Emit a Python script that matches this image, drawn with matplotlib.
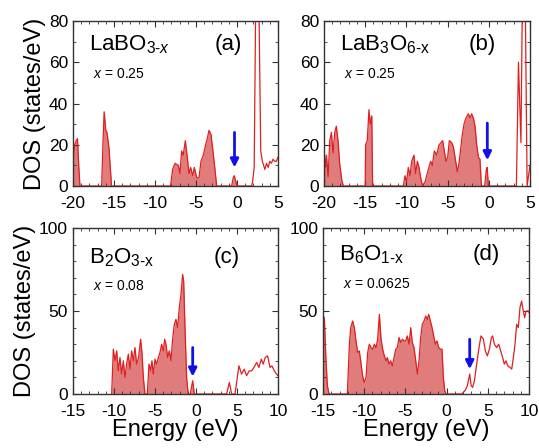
import numpy as np
import matplotlib
matplotlib.use('Agg')
import matplotlib.pyplot as plt
from matplotlib.ticker import MultipleLocator

plt.rcParams['font.family'] = ['Liberation Sans', 'DejaVu Sans']
plt.rcParams['axes.unicode_minus'] = False
plt.rcParams['mathtext.fontset'] = 'custom'
plt.rcParams['mathtext.rm'] = 'Liberation Sans'
plt.rcParams['mathtext.it'] = 'Liberation Sans:italic'

# (a) LaBO3-x
e_a = [-20.0, -19.8, -19.6, -19.45, -19.3, -19.15, -16.5, -16.35, -16.2, -16.0, -15.85, -15.6, -15.3,
       -8.1, -7.85, -7.56, -7.15, -6.95, -6.75, -6.55, -6.3, -6.06, -5.85, -5.65, -5.4, -5.2, -4.9,
       -4.63, -4.39, -4.1, -3.82, -3.62, -3.41, -3.17, -2.96, -2.68, -2.48,
       -0.65, -0.45, -0.33, -0.2, 0.04, 1.8, 1.9, 2.1, 2.45, 2.9, 3.1, 3.4, 3.6, 3.8, 4.0, 4.2, 4.4,
       4.6, 4.8, 5.0]
dos_a = [11, 20, 22, 23, 10, 0, 0, 20, 36, 27, 26, 18, 0,
         0, 8, 11, 10, 6, 17, 15, 22, 14, 6, 9, 5, 9, 4,
         4, 12, 15, 20, 23, 27, 25, 18, 8, 0,
         0, 4, 5, 3, 0, 0, 2, 9, 160, 17, 12, 8, 11, 9, 12, 11, 13,
         12, 12, 14]

# (b) LaB3O6-x
e_b = [-20.0, -19.85, -19.7, -19.5, -19.3, -19.1, -18.9, -18.7, -18.5, -18.3, -18.1, -17.85, -17.65,
       -15.0, -14.95, -14.75, -14.54, -14.38, -14.2, -14.1,
       -10.37, -10.17, -9.97, -9.77, -9.56, -9.36, -9.08, -8.88, -8.67, -8.47, -8.27, -8.03, -7.74,
       -7.54, -7.34, -7.06, -6.85, -6.61, -6.33, -6.04, -5.8, -5.6, -5.4, -5.19, -4.99, -4.79, -4.5,
       -4.3, -4.1, -3.82, -3.62, -3.41, -3.21, -3.01, -2.77, -2.48, -2.28, -2.08, -1.88, -1.67, -1.47,
       -1.27, -1.07, -0.9, -0.5, -0.3, -0.2, -0.05,
       3.35, 3.6, 3.9, 4.25, 4.65, 5.0]
dos_b = [19, 9, 15, 4.5, 22, 26, 16, 26, 29, 22, 11, 3, 0,
         0, 20, 22, 37, 30, 34, 0,
         0, 5, 2, 9, 5, 12, 15, 6, 12, 9, 4, 0, 2,
         5, 8, 12, 10, 17, 15, 20, 21, 22, 17, 12, 14, 22, 21,
         19, 14, 7, 11, 18, 25, 30, 33, 35, 33, 35, 33, 29, 20,
         14, 13, 0, 0, 8, 9, 0,
         0, 60, 21, 160, 0, 10]

# (c) B2O3-x
e_c = [-10.28, -10.08, -9.88, -9.67, -9.47, -9.27, -9.07, -8.86, -8.66, -8.46, -8.25, -8.05, -7.85,
       -7.64, -7.44, -7.24, -7.0, -6.75, -6.59, -6.42, -6.22, -5.93, -5.73, -5.53, -5.37, -5.2, -5.0,
       -4.8, -4.59, -4.39, -4.19, -3.98, -3.82, -3.66, -3.46, -3.25, -3.05, -2.85, -2.64, -2.44,
       -2.24, -2.03, -1.83, -1.63, -1.5, -1.34, -1.14, -0.95, -0.7, -0.4, -0.2,
       3.74, 4.07, 4.35, 4.76, 5.24, 5.56, 5.89, 6.17, 6.5, 6.8, 7.07, 7.4, 7.68, 7.97, 8.2, 8.45,
       8.74, 9.03, 9.27, 9.55, 9.83, 10.0]
dos_c = [0, 27, 20, 26, 14, 22, 12, 20, 10, 18, 24, 15, 26,
         20, 28, 18, 22, 33, 25, 10, 0, 0, 18, 14, 20, 12, 21,
         18, 22, 25, 30, 26, 33, 30, 22, 26, 20, 33, 42, 45,
         40, 52, 60, 72, 68, 40, 10, 0, 0, 8, 0,
         0, 7, 0, 0, 17, 12, 15, 11, 14, 14, 16, 19, 16, 21, 18, 22,
         23, 16, 17, 14, 12, 11]

# (d) B6O1-x
e_d = [-15.0, -14.84, -14.64, -14.47, -14.27, -12.05, -11.8, -11.64, -11.4, -11.2, -11.0, -10.8,
       -10.6, -10.43, -10.23, -10.02, -9.78, -9.58, -9.38, -9.17, -8.97, -8.77, -8.57, -8.37, -8.16,
       -7.96, -7.76, -7.56, -7.35, -7.19, -6.99, -6.79, -6.59, -6.38, -6.18, -5.98, -5.78, -5.57,
       -5.37, -5.17, -4.97, -4.77, -4.56, -4.36, -4.16, -3.96, -3.75, -3.55, -3.35, -3.15, -2.95,
       -2.74, -2.54, -2.34, -2.18, -1.97, -1.77, -1.57, -1.37, -1.17, -0.96, -0.76, -0.56, -0.4,
       -0.23, -0.07, 1.83, 2.23, 2.52, 2.8, 2.98, 3.16, 3.37, 3.65, 3.93, 4.17, 4.46, 4.7, 4.94,
       5.19, 5.43, 5.59, 5.79, 6.07, 6.32, 6.56, 6.8, 7.0, 7.21, 7.41, 7.7, 7.9, 8.1, 8.3, 8.5, 8.7,
       8.9, 9.1, 9.3, 9.47, 9.64, 9.92, 10.0]
dos_d = [47, 46, 20, 5, 0, 0, 30, 40, 44, 40, 32, 25,
         26, 20, 12, 7, 10, 25, 30, 28, 27, 30, 28, 33, 48,
         33, 27, 23, 20, 22, 18, 20, 17, 22, 27, 28, 34, 31,
         33, 32, 32, 35, 30, 40, 31, 28, 20, 12, 20, 34, 42,
         44, 47, 45, 48, 44, 40, 35, 30, 32, 28, 27, 27, 10,
         2, 0, 0, 2, 5, 12, 5, 4, 8, 18, 28, 35, 33, 26, 23,
         27, 34, 35, 30, 28, 30, 26, 22, 18, 20, 17, 16, 15, 22, 30, 42, 40,
         52, 56, 50, 46, 50, 50, 49]

line_color = '#dd2020'
fill_color = '#e07c7c'

panels = [
    dict(e=e_a, dos=dos_a, fill_to=0.2, rect=[0.1354, 0.5848, 0.3803, 0.3683],
         xlim=(-20, 5), ylim=(0, 80), ymaj=20, arrow=(-0.3, 26, 9),
         name=r'LaBO$_{3\text{-}\mathit{x}}$', name_y=0.824, tag='(a)', tag_x=0.756,
         xval=r'$\mathit{x}$ = 0.25', xval_y=0.653),
    dict(e=e_b, dos=dos_b, fill_to=0.0, rect=[0.6011, 0.5848, 0.3822, 0.3683],
         xlim=(-20, 5), ylim=(0, 80), ymaj=20, arrow=(-0.18, 30.5, 12.5),
         name=r'LaB$_3$O$_{6\text{-x}}$', name_y=0.824, tag='(b)', tag_x=0.766,
         xval=r'$\mathit{x}$ = 0.25', xval_y=0.653),
    dict(e=e_c, dos=dos_c, fill_to=0.0, rect=[0.1354, 0.1205, 0.3803, 0.3705],
         xlim=(-15, 10), ylim=(0, 100), ymaj=50, arrow=(-0.4, 28, 10.5),
         name=r'B$_2$O$_{3\text{-x}}$', name_y=0.787, tag='(c)', tag_x=0.75,
         xval=r'$\mathit{x}$ = 0.08', xval_y=0.627),
    dict(e=e_d, dos=dos_d, fill_to=0.5, rect=[0.5993, 0.1205, 0.3822, 0.3705],
         xlim=(-15, 10), ylim=(0, 100), ymaj=50, arrow=(2.8, 33, 15),
         name=r'B$_6$O$_{1\text{-x}}$', name_y=0.807, tag='(d)', tag_x=0.79,
         xval=r'$\mathit{x}$ = 0.0625', xval_y=0.637),
]

fig = plt.figure(figsize=(5.39, 4.48), dpi=100)

for i, p in enumerate(panels):
    ax = fig.add_axes(p['rect'])
    e = np.array(p['e'])
    dos = np.array(p['dos'])
    ax.fill_between(e, dos, where=e <= p['fill_to'], color=fill_color, lw=0, interpolate=True)
    ax.plot(e, dos, color=line_color, lw=0.9)

    ax.set_xlim(*p['xlim'])
    ax.set_ylim(*p['ylim'])
    ax.xaxis.set_major_locator(MultipleLocator(5))
    ax.xaxis.set_minor_locator(MultipleLocator(1))
    ax.yaxis.set_major_locator(MultipleLocator(p['ymaj']))
    ax.yaxis.set_minor_locator(MultipleLocator(10))
    ax.tick_params(which='both', direction='in', top=True, right=True, labelsize=12.5, color='#333333')
    ax.tick_params(which='major', length=4)
    ax.tick_params(which='minor', length=2)
    ax.tick_params(axis='x', which='major', pad=7)
    for s in ax.spines.values():
        s.set_color('#333333')
        s.set_linewidth(1.0)

    x0, ytail, yhead = p['arrow']
    ax.annotate('', xy=(x0, yhead), xytext=(x0, ytail),
                arrowprops=dict(arrowstyle='-|>', color='#1010ee', lw=2, mutation_scale=12,
                                shrinkA=0, shrinkB=0))

    ax.text(0.078, p['name_y'], p['name'], transform=ax.transAxes, fontsize=16, va='baseline')
    ax.text(p['tag_x'], p['name_y'], p['tag'], transform=ax.transAxes, fontsize=16,
            va='baseline', ha='center')
    ax.text(0.098, p['xval_y'], p['xval'], transform=ax.transAxes, fontsize=10, va='baseline')

    if i % 2 == 0:
        ax.set_ylabel('DOS (states/eV)', fontsize=17, labelpad=2)
    if i >= 2:
        ax.set_xlabel('Energy (eV)', fontsize=17, labelpad=0)

fig.savefig('out.png', dpi=100)
